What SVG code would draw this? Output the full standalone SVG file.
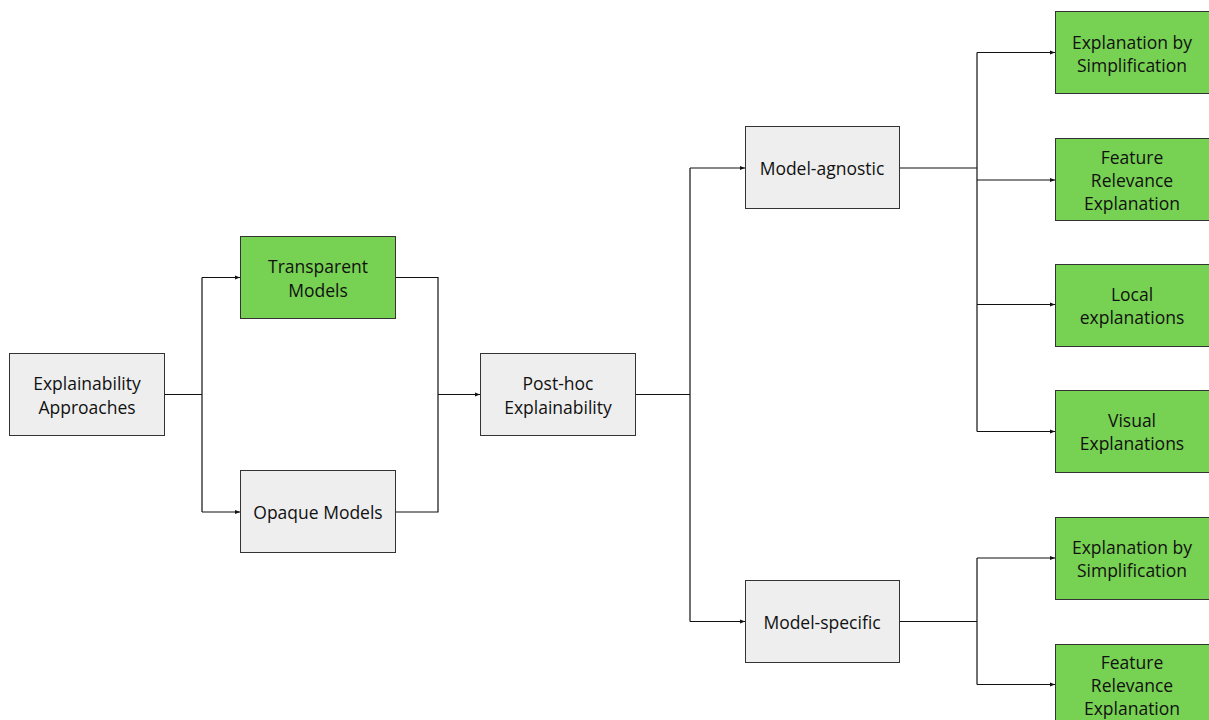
<svg xmlns="http://www.w3.org/2000/svg" width="1209" height="720" viewBox="0 0 1209 720">
  <defs>
    <marker id="arrow" markerUnits="userSpaceOnUse" markerWidth="6" markerHeight="6" refX="5" refY="3" orient="auto">
      <path d="M0,1 L5,3 L0,5 z" fill="#111"/>
    </marker>
    <style>
      .box { stroke: #333; stroke-width: 1; }
      .gray { fill: #eeeeee; }
      .green { fill: #77d152; }
      .lbl { font-family: "Open Sans", "Noto Sans", sans-serif; font-size: 17.5px; fill: #111; text-anchor: middle; dominant-baseline: central; }
      .edge { fill: none; stroke: #111; stroke-width: 1.2; }
      .arr { marker-end: url(#arrow); }
    </style>
  </defs>
  <rect width="1209" height="720" fill="#ffffff"/>

  <g id="connectors">
    <path class="edge" d="M164,394.5 H202"/>
    <path class="edge" d="M202,277.5 V512"/>
    <path class="edge arr" d="M202,277.5 H240"/>
    <path class="edge arr" d="M202,512 H240"/>
    <path class="edge" d="M395,277.5 H438 V512 H395"/>
    <path class="edge arr" d="M438,394.5 H480"/>
    <path class="edge" d="M635,394.5 H690"/>
    <path class="edge" d="M690,168 V621.5"/>
    <path class="edge arr" d="M690,168 H745"/>
    <path class="edge arr" d="M690,621.5 H745"/>
    <path class="edge" d="M899,168 H977" stroke-width="2"/>
    <path class="edge" d="M977,52.5 V431.5"/>
    <path class="edge arr" d="M977,52.5 H1055"/>
    <path class="edge arr" d="M977,180 H1055"/>
    <path class="edge arr" d="M977,304.5 H1055"/>
    <path class="edge arr" d="M977,431.5 H1055"/>
    <path class="edge" d="M899,621.5 H977"/>
    <path class="edge" d="M977,558 V684.5"/>
    <path class="edge arr" d="M977,558 H1055"/>
    <path class="edge arr" d="M977,684.5 H1055"/>
  </g>

  <g id="explainability-approaches">
    <rect class="box gray" x="9.5" y="353.5" width="155" height="82"/>
    <text class="lbl" x="87" y="383">Explainability</text>
    <text class="lbl" x="87" y="407">Approaches</text>
  </g>

  <g id="transparent-models">
    <rect class="box green" x="240.5" y="236.5" width="155" height="82"/>
    <text class="lbl" x="318" y="266">Transparent</text>
    <text class="lbl" x="318" y="290">Models</text>
  </g>

  <g id="opaque-models">
    <rect class="box gray" x="240.5" y="470.5" width="155" height="82"/>
    <text class="lbl" x="318" y="512">Opaque Models</text>
  </g>

  <g id="post-hoc">
    <rect class="box gray" x="480.5" y="353.5" width="155" height="82"/>
    <text class="lbl" x="558" y="383">Post-hoc</text>
    <text class="lbl" x="558" y="407">Explainability</text>
  </g>

  <g id="model-agnostic">
    <rect class="box gray" x="745.5" y="126.5" width="154" height="82"/>
    <text class="lbl" x="822" y="168">Model-agnostic</text>
  </g>

  <g id="model-specific">
    <rect class="box gray" x="745.5" y="580.5" width="154" height="82"/>
    <text class="lbl" x="822" y="622">Model-specific</text>
  </g>

  <g id="agnostic-simplification">
    <rect class="box green" x="1055.5" y="11.5" width="155" height="82"/>
    <text class="lbl" x="1132" y="42">Explanation by</text>
    <text class="lbl" x="1132" y="65">Simplification</text>
  </g>

  <g id="agnostic-feature-relevance">
    <rect class="box green" x="1055.5" y="138.5" width="155" height="82"/>
    <text class="lbl" x="1132" y="157">Feature</text>
    <text class="lbl" x="1132" y="180">Relevance</text>
    <text class="lbl" x="1132" y="203">Explanation</text>
  </g>

  <g id="agnostic-local">
    <rect class="box green" x="1055.5" y="264.5" width="155" height="82"/>
    <text class="lbl" x="1132" y="294">Local</text>
    <text class="lbl" x="1132" y="317">explanations</text>
  </g>

  <g id="agnostic-visual">
    <rect class="box green" x="1055.5" y="390.5" width="155" height="82"/>
    <text class="lbl" x="1132" y="420">Visual</text>
    <text class="lbl" x="1132" y="443">Explanations</text>
  </g>

  <g id="specific-simplification">
    <rect class="box green" x="1055.5" y="517.5" width="155" height="82"/>
    <text class="lbl" x="1132" y="547">Explanation by</text>
    <text class="lbl" x="1132" y="570">Simplification</text>
  </g>

  <g id="specific-feature-relevance">
    <rect class="box green" x="1055.5" y="644.5" width="155" height="82"/>
    <text class="lbl" x="1132" y="662">Feature</text>
    <text class="lbl" x="1132" y="685">Relevance</text>
    <text class="lbl" x="1132" y="708">Explanation</text>
  </g>
</svg>
